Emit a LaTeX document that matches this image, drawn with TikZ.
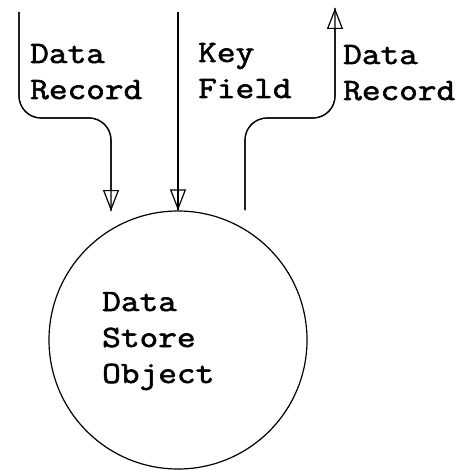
\documentclass[tikz,border=0pt]{standalone}
\usepackage{fontspec}
\setmonofont{Latin Modern Mono}[FakeStretch=1.17, FakeBold=2]
\usetikzlibrary{arrows.meta}
\tikzset{
  lbl/.style={font=\ttfamily\fontsize{31}{36}\selectfont, align=left, inner sep=0pt, anchor=base west},
  % open arrowhead, with the shaft running on into it up to the tip
  flow/.style={line width=1.2pt, rounded corners=22pt,
    -{Triangle[open, length=21pt, width=16pt, line width=1.2pt]},
    postaction={draw, arrows=-}},
  store/.style={circle, draw, line width=1.2pt, minimum size=258pt, inner sep=0pt}
}
\begin{document}
\begin{tikzpicture}[x=1pt, y=-1pt]
  \useasboundingbox (0,0) rectangle (469,470);
  % data store object
  \node[store] (obj) at (178,340) {};
  \node[lbl] (objtxt) at (102,383) {Data\\Store\\Object};
  % free ends of the flows
  \coordinate (inA) at (19,12);
  \coordinate (inAend) at (111,211);
  \coordinate (inK) at (178,12);
  \coordinate (outS) at (245,210);
  \coordinate (outE) at (335,8);
  % incoming data record
  \draw[flow] (inA) -- (inA |- 0,118) -- (inAend |- 0,118) -- (inAend);
  % key field
  \draw[flow] (inK) -- (obj.north);
  % outgoing data record
  \draw[flow] (outS) -- (outS |- 0,118) -- (outE |- 0,118) -- (outE);
  % flow labels
  \node[lbl] (labA) at (30,99) {Data\\Record};
  \node[lbl] (labK) at (198,98) {Key\\Field};
  \node[lbl] (labR) at (343,100) {Data\\Record};
\end{tikzpicture}
\end{document}
